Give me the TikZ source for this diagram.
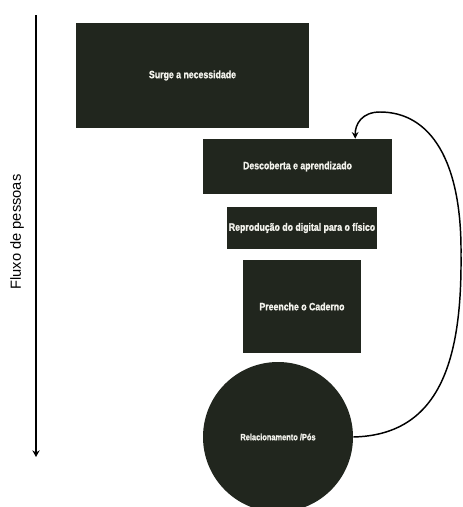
\documentclass[tikz,border=0pt]{standalone}
\usepackage{fontspec}
\setmainfont{Liberation Sans}
\newfontfamily\narrowbold[FakeStretch=0.82,FakeBold=1.2,UprightFont={* Bold}]{Liberation Sans}
\usetikzlibrary{arrows.meta}
\definecolor{panel}{HTML}{21261E}
\definecolor{paneltext}{HTML}{F2F2EC}
\tikzset{
  stage/.style={rectangle, fill=panel, text=paneltext, inner sep=0pt,
    font=\narrowbold\fontsize{8pt}{9.5pt}\selectfont, align=center},
  hub/.style={circle, fill=panel, text=paneltext, inner sep=0pt,
    minimum size=112.5pt, font=\narrowbold\fontsize{6.8pt}{8pt}\selectfont},
  flow/.style={line width=1.6pt, -{Stealth[length=5pt,width=5.5pt]}},
  loop/.style={line width=1.1pt, -{Stealth[length=5pt,width=5pt]}}
}
\begin{document}
\begin{tikzpicture}[x=0.75pt,y=-0.75pt]
\useasboundingbox (0,0) rectangle (462,507);
\fill[white] (0,0) rectangle (462,507);

% time axis with its caption
\coordinate (axtop) at (36,15);
\coordinate (axbot) at (36,457);
\draw[flow] (axtop) -- (axbot);
\node[rotate=90, font=\fontsize{11pt}{13pt}\selectfont] (axlabel) at (17,232) {Fluxo de pessoas};

% stages of the journey
\node[stage, minimum width=174.75pt, minimum height=78.75pt] (s1) at (192.5,75.5) {Surge a necessidade};
\node[stage, minimum width=141.75pt, minimum height=41.25pt] (s2) at (297.5,166.5) {Descoberta e aprendizado};
\node[stage, minimum width=112.5pt, minimum height=31.5pt] (s3) at (302,228) {Reprodução do digital para o físico};
\node[stage, minimum width=88.5pt, minimum height=69.75pt] (s4) at (302,306.5) {Preenche o Caderno};
\node[hub] (s5) at (278,437) {Relacionamento /Pós};

% return loop back to discovery
\draw[loop] (s5.east) .. controls (440,435) and (462,360) .. (461,255)
  .. controls (462,160) and (430,112) .. (380,112)
  .. controls (362,112) and (355,124) .. ([xshift=-27.75pt]s2.north east);
\end{tikzpicture}
\end{document}
